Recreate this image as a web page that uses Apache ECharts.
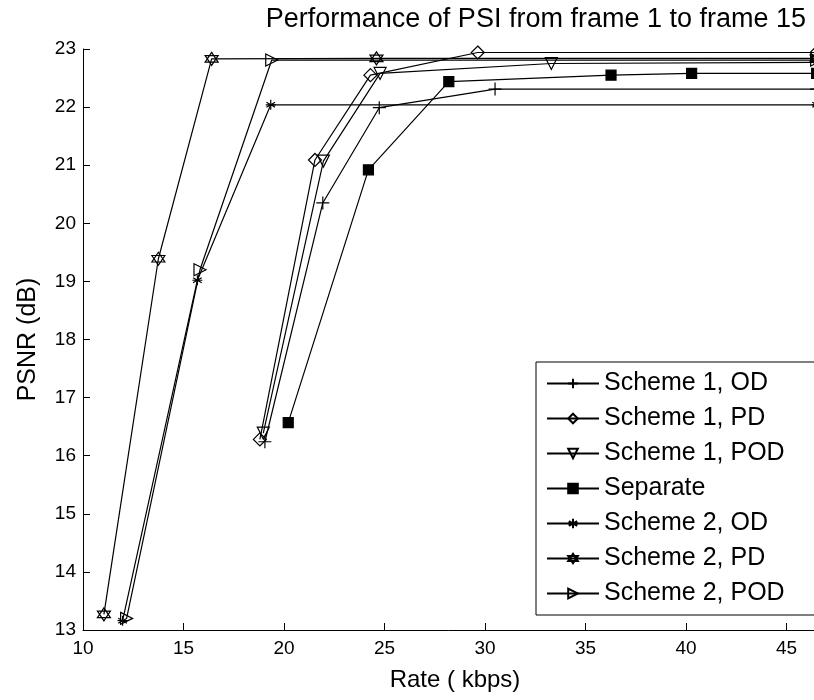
<!DOCTYPE html>
<html>
<head>
<meta charset="utf-8">
<script src="https://cdn.jsdelivr.net/npm/echarts@6/dist/echarts.min.js"></script>
<style>html,body{margin:0;padding:0;background:#fff}#c{width:814px;height:700px}</style>
</head>
<body>
<div id="c"></div>
<script>
// ---- data ----
const seriesNames = ['Scheme 1, OD','Scheme 1, PD','Scheme 1, POD','Separate','Scheme 2, OD','Scheme 2, PD','Scheme 2, POD'];
const s1OD_rate  = [19.05, 21.93, 24.74, 30.5, 46.5];
const s1OD_psnr  = [16.24, 20.35, 21.99, 22.31, 22.31];
const s1PD_rate  = [18.8, 21.54, 24.3, 29.64, 46.5];
const s1PD_psnr  = [16.28, 21.09, 22.55, 22.94, 22.94];
const s1POD_rate = [18.97, 21.96, 24.78, 33.3, 46.5];
const s1POD_psnr = [16.39, 21.07, 22.58, 22.75, 22.77];
const sep_rate   = [20.21, 24.2, 28.2, 36.27, 40.28, 46.5];
const sep_psnr   = [16.57, 20.92, 22.44, 22.55, 22.58, 22.58];
const s2OD_rate  = [11.97, 15.69, 19.34, 46.5];
const s2OD_psnr  = [13.16, 19.02, 22.04, 22.04];
const s2PD_rate  = [11.04, 13.75, 16.4, 24.6, 46.5];
const s2PD_psnr  = [13.27, 19.39, 22.83, 22.84, 22.84];
const s2POD_rate = [12.17, 15.82, 19.39, 46.5];
const s2POD_psnr = [13.2, 19.2, 22.81, 22.81];
const xTicks = [10, 15, 20, 25, 30, 35, 40, 45, 50];
const yTicks = [13, 14, 15, 16, 17, 18, 19, 20, 21, 22, 23];

const rates = [s1OD_rate, s1PD_rate, s1POD_rate, sep_rate, s2OD_rate, s2PD_rate, s2POD_rate];
const psnrs = [s1OD_psnr, s1PD_psnr, s1POD_psnr, sep_psnr, s2OD_psnr, s2PD_psnr, s2POD_psnr];

const SYM = {
  plus: 'path://M0,-1 L0,1 M-1,0 L1,0',
  diamond: 'path://M0,-1 L1,0 L0,1 L-1,0 Z',
  tdown: 'path://M-1,-1 L1,-1 L0,1 Z',
  square: 'rect',
  aster: 'path://M0,-1 L0,1 M-0.866,-0.5 L0.866,0.5 M-0.866,0.5 L0.866,-0.5 M-1,0 L1,0',
  hexa: 'path://M0,-1 L0.866,0.5 L-0.866,0.5 Z M0,1 L-0.866,-0.5 L0.866,-0.5 Z',
  tright: 'path://M-1,-1 L1,0 L-1,1 Z'
};
const symbols = [SYM.plus, SYM.diamond, SYM.tdown, SYM.square, SYM.aster, SYM.hexa, SYM.tright];
const sizes = [13, 13, 12, 10, 10, 13, 12];

const FONT = '"Liberation Sans", Arial, sans-serif';

const series = seriesNames.map((name, i) => ({
  name: name,
  type: 'line',
  data: rates[i].map((r, k) => [r, psnrs[i][k]]),
  symbol: symbols[i],
  symbolSize: sizes[i],
  symbolKeepAspect: false,
  showAllSymbol: true,
  lineStyle: { color: '#000', width: 1.2 },
  itemStyle: {
    color: i === 3 ? '#000' : 'none',
    borderColor: '#000',
    borderWidth: 1.2
  },
  emphasis: { disabled: true },
  z: 3
}));

const chart = echarts.init(document.getElementById('c'), null, { renderer: 'canvas' });
chart.setOption({
  animation: false,
  backgroundColor: '#fff',
  title: {
    text: 'Performance of PSI from frame 1 to frame 15',
    right: 3, top: 1,
    textStyle: { fontFamily: FONT, fontSize: 27, fontWeight: 'normal', color: '#000' }
  },
  grid: { left: 83, top: 49, width: 804, height: 581, outerBoundsMode: 'none', containLabel: false },
  xAxis: {
    type: 'value', min: 10, max: 50, interval: 5,
    name: 'Rate ( kbps)', nameLocation: 'middle', nameGap: 38,
    nameTextStyle: { fontFamily: FONT, fontSize: 24, color: '#000', padding: [0, 60, 0, 0] },
    axisLine: { show: true, lineStyle: { color: '#000', width: 1 } },
    axisTick: { show: true, inside: true, length: 7, lineStyle: { color: '#000' } },
    axisLabel: { fontFamily: FONT, fontSize: 19, color: '#000', margin: 9 },
    splitLine: { show: false }
  },
  yAxis: {
    type: 'value', min: 13, max: 23, interval: 1,
    name: 'PSNR (dB)', nameLocation: 'middle', nameGap: 42,
    nameTextStyle: { fontFamily: FONT, fontSize: 25, color: '#000' },
    axisLine: { show: true, lineStyle: { color: '#000', width: 1 } },
    axisTick: { show: true, inside: true, length: 7, lineStyle: { color: '#000' } },
    axisLabel: { fontFamily: FONT, fontSize: 19, color: '#000', margin: 7 },
    splitLine: { show: false }
  },
  legend: {
    data: seriesNames,
    orient: 'vertical',
    left: 536, top: 362,
    padding: [9, 40, 9, 10],
    itemWidth: 52, itemHeight: 12, itemGap: 10,
    borderColor: '#000', borderWidth: 1, backgroundColor: '#fff',
    textStyle: { fontFamily: FONT, fontSize: 25, color: '#000' },
    selectedMode: false
  },
  series: series
});
</script>
</body>
</html>
